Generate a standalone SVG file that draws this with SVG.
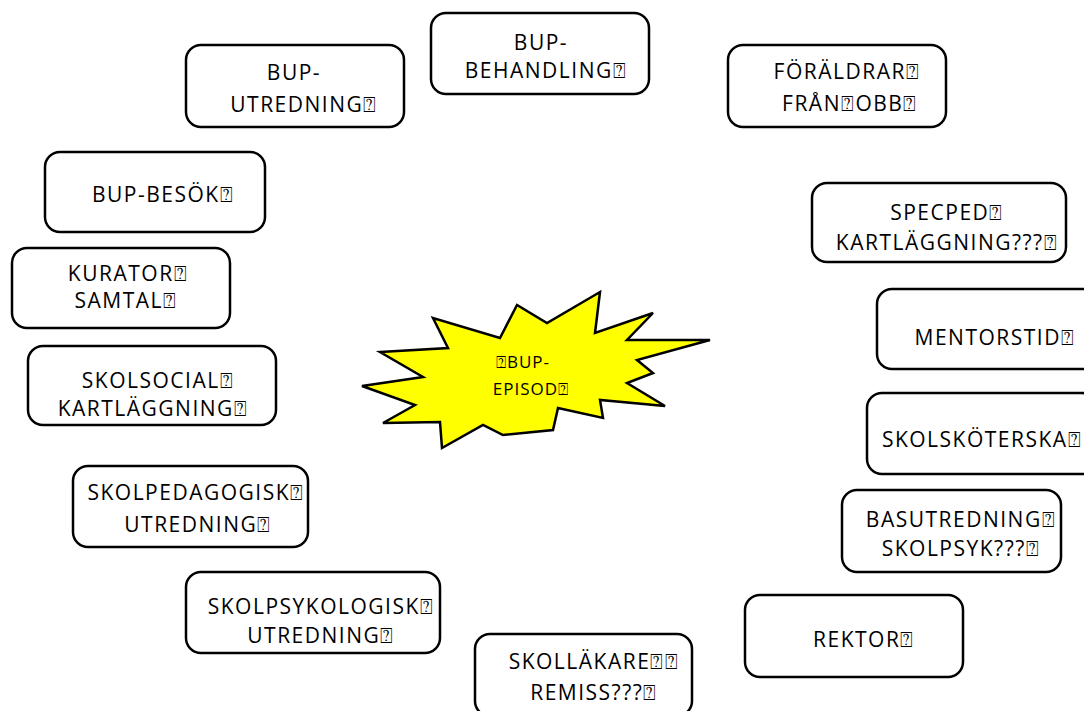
<svg xmlns="http://www.w3.org/2000/svg" width="1084" height="711" viewBox="0 0 1084 711">
<style>
.box{fill:#fff;stroke:#000;stroke-width:2.5}
.t{font-family:"Open Sans","Liberation Sans",sans-serif;font-size:21px;letter-spacing:1.5px;fill:#000;text-anchor:middle}
.s{font-family:"Open Sans","Liberation Sans",sans-serif;font-size:17px;letter-spacing:1px;fill:#000;text-anchor:middle}
</style>
<rect width="1084" height="711" fill="#fff"/>
<g id="connectors"></g>
<g id="bup-episod">
<polygon points="600,292 595,333 653,313 627,340 710,340 637,360 653,373 627,383 665,406 600,400 603,418 558,408 553,430 503,435 483,425 442,448 440,422 383,423 415,405 362,386 423,377 380,352 448,348 433,318 500,338 517,305 547,323" fill="#ffff00" stroke="#000" stroke-width="2.5" stroke-linejoin="miter"/>
<text class="s" x="523" y="368">⍰BUP-</text>
<text class="s" x="531" y="395">EPISOD⍰</text>
</g>
<g id="bup-behandling">
<rect class="box" x="431" y="13" width="218" height="81" rx="15"/>
<text class="t" x="541" y="50">BUP-</text>
<text class="t" x="546" y="78">BEHANDLING⍰</text>
</g>
<g id="bup-utredning">
<rect class="box" x="186" y="45" width="218" height="82" rx="15"/>
<text class="t" x="294" y="80">BUP-</text>
<text class="t" x="304" y="112">UTREDNING⍰</text>
</g>
<g id="foraldrar">
<rect class="box" x="728" y="45" width="218" height="82" rx="15"/>
<text class="t" x="847" y="79">FÖRÄLDRAR⍰</text>
<text class="t" x="850" y="111">FRÅN⍰OBB⍰</text>
</g>
<g id="bup-besok">
<rect class="box" x="45" y="152" width="220" height="80" rx="15"/>
<text class="t" x="163" y="202">BUP-BESÖK⍰</text>
</g>
<g id="kurator">
<rect class="box" x="12" y="248" width="218" height="80" rx="15"/>
<text class="t" x="128" y="281">KURATOR⍰</text>
<text class="t" x="126" y="308">SAMTAL⍰</text>
</g>
<g id="skolsocial">
<rect class="box" x="28" y="346" width="248" height="79" rx="15"/>
<text class="t" x="158" y="388">SKOLSOCIAL⍰</text>
<text class="t" x="153" y="416">KARTLÄGGNING⍰</text>
</g>
<g id="skolpedagogisk">
<rect class="box" x="73" y="466" width="235" height="81" rx="15"/>
<text class="t" x="196" y="500">SKOLPEDAGOGISK⍰</text>
<text class="t" x="198" y="532">UTREDNING⍰</text>
</g>
<g id="skolpsykologisk">
<rect class="box" x="186" y="572" width="254" height="81" rx="15"/>
<text class="t" x="321" y="614">SKOLPSYKOLOGISK⍰</text>
<text class="t" x="321" y="643">UTREDNING⍰</text>
</g>
<g id="skollakare">
<rect class="box" x="475" y="634" width="217" height="82" rx="15"/>
<text class="t" x="594" y="669">SKOLLÄKARE⍰⍰</text>
<text class="t" x="594" y="700">REMISS???⍰</text>
</g>
<g id="specped">
<rect class="box" x="812" y="183" width="254" height="79" rx="15"/>
<text class="t" x="947" y="220">SPECPED⍰</text>
<text class="t" x="947" y="250">KARTLÄGGNING???⍰</text>
</g>
<g id="mentorstid">
<rect class="box" x="877" y="289" width="230" height="80" rx="15"/>
<text class="t" x="995" y="345">MENTORSTID⍰</text>
</g>
<g id="skolskoterska">
<rect class="box" x="867" y="393" width="230" height="81" rx="15"/>
<text class="t" x="982" y="447">SKOLSKÖTERSKA⍰</text>
</g>
<g id="basutredning">
<rect class="box" x="842" y="490" width="219" height="82" rx="15"/>
<text class="t" x="961" y="527">BASUTREDNING⍰</text>
<text class="t" x="961" y="556">SKOLPSYK???⍰</text>
</g>
<g id="rektor">
<rect class="box" x="745" y="595" width="218" height="82" rx="15"/>
<text class="t" x="864" y="647">REKTOR⍰</text>
</g>
</svg>
